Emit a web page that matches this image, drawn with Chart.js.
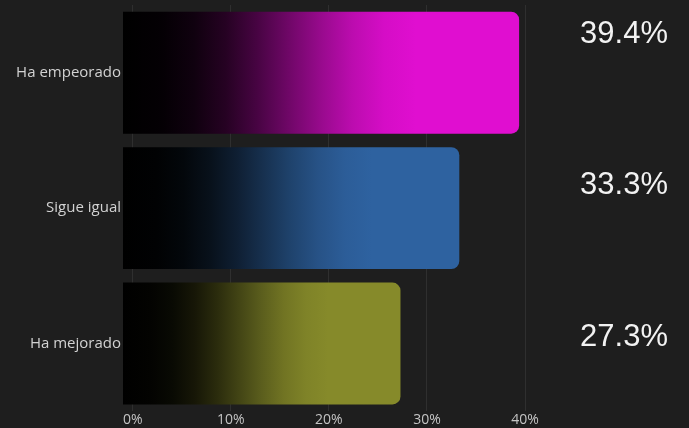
<!DOCTYPE html>
<html>
<head>
<meta charset="utf-8">
<script src="https://cdn.jsdelivr.net/npm/chart.js@4/dist/chart.umd.min.js"></script>
<style>
  html, body { margin: 0; padding: 0; background: #1e1e1e; }
  canvas { display: block; }
</style>
</head>
<body>
<canvas id="c" width="689" height="428"></canvas>
<script>
const categories = ['Ha empeorado', 'Sigue igual', 'Ha mejorado'];
const values = [39.4, 33.3, 27.3];
const barColors = ['#e00ed0', '#2e62a0', '#868a2a'];
const xTicks = [0, 10, 20, 30, 40];

function hexToRgb(h) {
  const n = parseInt(h.slice(1), 16);
  return [(n >> 16) & 255, (n >> 8) & 255, n & 255];
}
function shade(hex, t) {
  const [r, g, b] = hexToRgb(hex);
  return `rgb(${Math.round(r * t)},${Math.round(g * t)},${Math.round(b * t)})`;
}
const rampStops = [[0, 0], [0.1, 0.02], [0.18, 0.07], [0.26, 0.17], [0.34, 0.32], [0.42, 0.5], [0.5, 0.68], [0.58, 0.84], [0.66, 0.95], [0.74, 1], [1, 1]];

function barFill(ctx) {
  const chart = ctx.chart;
  if (!chart.chartArea || ctx.type !== 'data') return barColors[ctx.dataIndex];
  const xs = chart.scales.x;
  const x0 = xs.getPixelForValue(-1);
  const x1 = xs.getPixelForValue(values[ctx.dataIndex]);
  const g = chart.ctx.createLinearGradient(x0, 0, x1, 0);
  rampStops.forEach(([p, t]) => g.addColorStop(p, shade(barColors[ctx.dataIndex], t)));
  return g;
}

const valueLabels = {
  id: 'valueLabels',
  afterDraw(chart) {
    const c = chart.ctx;
    const area = chart.chartArea;
    c.save();
    c.font = "31px 'Liberation Sans', Arial, sans-serif";
    c.fillStyle = '#f2f2f2';
    c.textAlign = 'right';
    c.textBaseline = 'middle';
    values.forEach((v, i) => {
      c.fillText(v.toFixed(1) + '%', area.right + 143, area.top + 29 + i * 151.5);
    });
    c.restore();
  }
};

new Chart(document.getElementById('c'), {
  type: 'bar',
  data: {
    labels: categories,
    datasets: [{
      data: values,
      base: -1,
      backgroundColor: barFill,
      borderWidth: 0,
      borderRadius: { topLeft: 0, bottomLeft: 0, topRight: 8, bottomRight: 8 },
      borderSkipped: false,
      categoryPercentage: 0.9,
      barPercentage: 1
    }]
  },
  options: {
    indexAxis: 'y',
    responsive: false,
    devicePixelRatio: 1,
    animation: false,
    layout: { padding: { left: 0, right: 164, top: 5, bottom: 0 } },
    plugins: { legend: { display: false }, tooltip: { enabled: false } },
    scales: {
      x: {
        min: -1,
        max: 40,
        afterBuildTicks(axis) { axis.ticks = xTicks.map(v => ({ value: v })); },
        grid: { color: '#2f2f2f', lineWidth: 1, drawTicks: false },
        border: { display: false },
        ticks: {
          color: '#c4c4c4',
          padding: 0,
          font: { family: "'Open Sans', sans-serif", size: 14 },
          callback: v => v + '%'
        }
      },
      y: {
        afterFit(scale) { scale.width = 123; scale.paddingTop = 0; scale.paddingBottom = 0; },
        grid: { display: false, drawTicks: false },
        border: { display: false },
        ticks: {
          color: '#d2d2d2',
          padding: 2,
          font: { family: "'Open Sans', sans-serif", size: 15 }
        }
      }
    }
  },
  plugins: [valueLabels]
});
</script>
</body>
</html>
